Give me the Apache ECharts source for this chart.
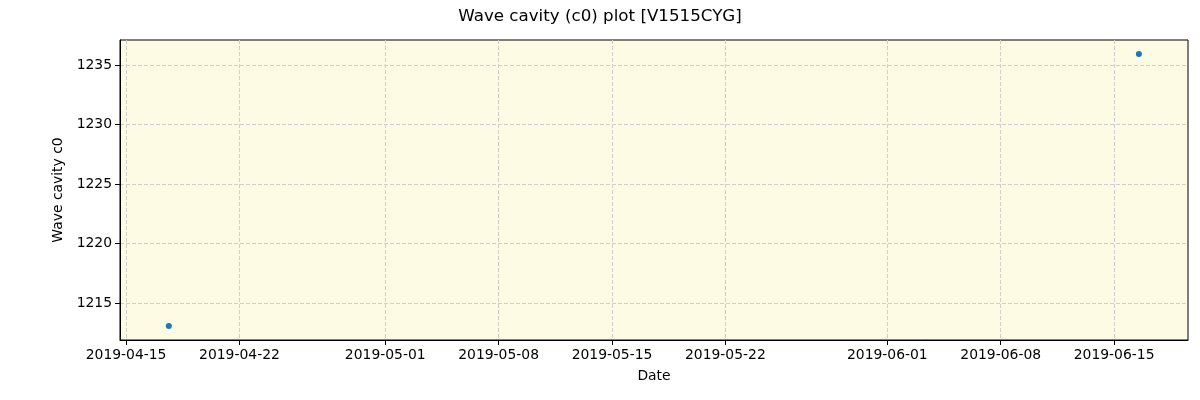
<!DOCTYPE html>
<html>
<head>
<meta charset="utf-8">
<script src="https://cdn.jsdelivr.net/npm/echarts@6/dist/echarts.min.js"></script>
<style>html,body{margin:0;padding:0;background:#fff}#c{width:1200px;height:400px}</style>
</head>
<body>
<div id="c"></div>
<script>
const dates = ['2019-04-17T15:20:00Z', '2019-06-16T12:45:00Z'];
const values = [1213.07, 1235.92];
const xTickLabels = ['2019-04-15','2019-04-22','2019-05-01','2019-05-08','2019-05-15','2019-05-22','2019-06-01','2019-06-08','2019-06-15'];
const yTickValues = [1215, 1220, 1225, 1230, 1235];
const xRange = ['2019-04-14T15:00:00Z', '2019-06-19T13:30:00Z'];
const yRange = [1211.89, 1237.10];

const ts = s => Date.parse(s);
const xTicks = xTickLabels.map(d => ts(d + 'T00:00:00Z'));
const pad = n => (n < 10 ? '0' : '') + n;
const fmt = v => { const d = new Date(v); return d.getUTCFullYear() + '-' + pad(d.getUTCMonth() + 1) + '-' + pad(d.getUTCDate()); };
const font = 'DejaVu Sans';
const fs = 13.9;

const chart = echarts.init(document.getElementById('c'), null, {renderer: 'canvas'});
chart.setOption({
  animation: false,
  backgroundColor: '#ffffff',
  title: {
    text: 'Wave cavity (c0) plot [V1515CYG]',
    left: 'center', top: 3,
    textStyle: {fontFamily: font, fontSize: 16.7, fontWeight: 'normal', color: '#000'}
  },
  grid: {
    left: 120, right: 12, top: 40, bottom: 60,
    show: true, backgroundColor: '#fdfbe3', borderColor: '#000', borderWidth: 1
  },
  xAxis: {
    type: 'value',
    min: ts(xRange[0]), max: ts(xRange[1]),
    name: 'Date', nameLocation: 'middle', nameGap: 29,
    nameTextStyle: {fontFamily: font, fontSize: fs, color: '#000'},
    axisLine: {show: true, lineStyle: {color: '#000', width: 1}},
    axisTick: {show: true, customValues: xTicks, length: 5, lineStyle: {color: '#000'}},
    axisLabel: {customValues: xTicks, formatter: fmt, fontFamily: font, fontSize: fs, color: '#000', margin: 8},
    splitLine: {show: true, customValues: xTicks, lineStyle: {color: '#cfcfcf', type: [4, 2], width: 1}}
  },
  yAxis: {
    type: 'value',
    min: yRange[0], max: yRange[1],
    name: 'Wave cavity c0', nameLocation: 'middle', nameGap: 50, nameRotate: 90,
    nameTextStyle: {fontFamily: font, fontSize: fs, color: '#000'},
    axisLine: {show: true, lineStyle: {color: '#000', width: 1}},
    axisTick: {show: true, customValues: yTickValues, length: 5, lineStyle: {color: '#000'}},
    axisLabel: {customValues: yTickValues, formatter: v => String(v), fontFamily: font, fontSize: fs, color: '#000', margin: 8},
    splitLine: {show: true, customValues: yTickValues, lineStyle: {color: '#cfcfcf', type: [4, 2], width: 1}}
  },
  series: [{
    type: 'scatter',
    data: dates.map((d, i) => [ts(d), values[i]]),
    symbolSize: 6,
    itemStyle: {color: '#1f77b4', opacity: 1}
  }]
});
</script>
</body>
</html>
